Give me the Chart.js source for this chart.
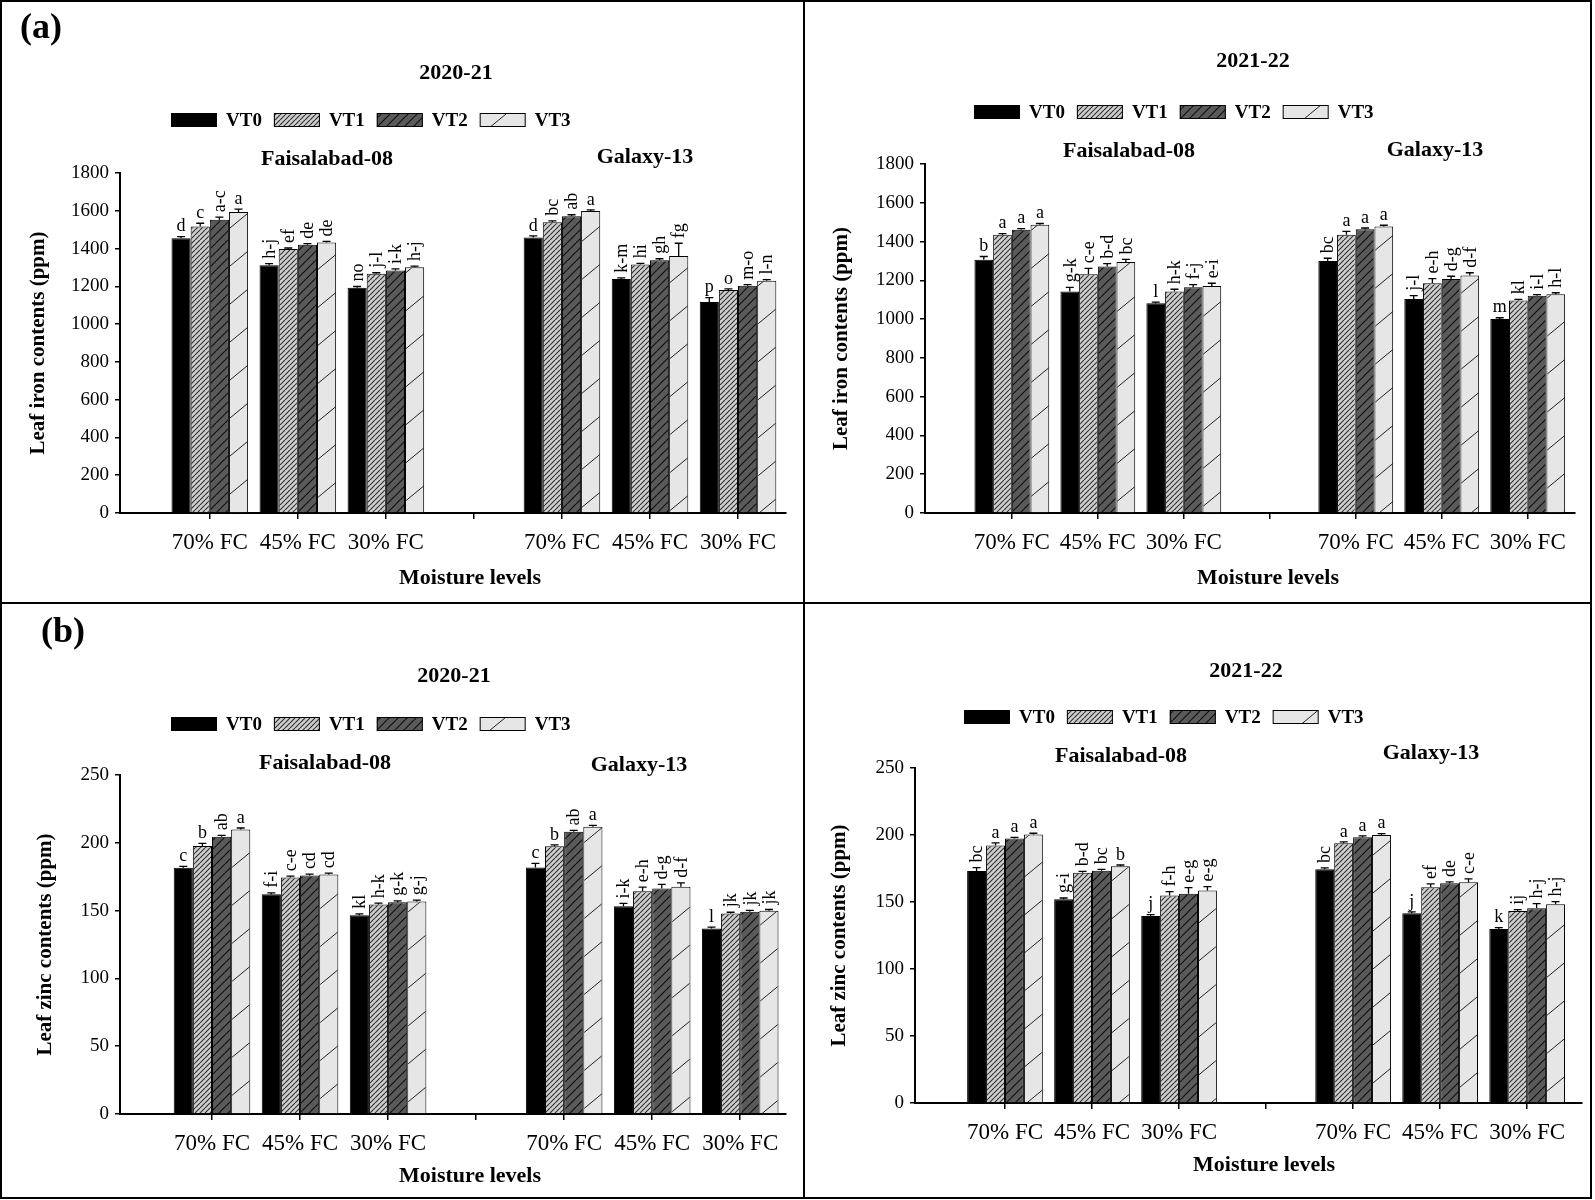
<!DOCTYPE html>
<html>
<head>
<meta charset="utf-8">
<title>Leaf iron and zinc contents</title>
<script src="https://cdn.jsdelivr.net/npm/chart.js@4.4.0/dist/chart.umd.min.js"></script>
<style>
  html, body { margin: 0; padding: 0; background: #fff; }
  #fig { position: relative; width: 1595px; height: 1200px; background: #fff; overflow: hidden; }
  #fig canvas { position: absolute; }
  .rule { position: absolute; background: #000; }
</style>
</head>
<body>
<div id="fig">
  <canvas id="feA" width="804" height="603" style="left:0;top:0"></canvas>
  <canvas id="feB" width="791" height="603" style="left:804px;top:0"></canvas>
  <canvas id="znA" width="804" height="597" style="left:0;top:603px"></canvas>
  <canvas id="znB" width="791" height="597" style="left:804px;top:603px"></canvas>
  <div class="rule" style="left:0;top:0;width:1592px;height:2px"></div>
  <div class="rule" style="left:0;top:1197px;width:1592px;height:2px"></div>
  <div class="rule" style="left:0;top:0;width:2px;height:1199px"></div>
  <div class="rule" style="left:1590px;top:0;width:2px;height:1199px"></div>
  <div class="rule" style="left:803px;top:0;width:2px;height:1199px"></div>
  <div class="rule" style="left:0;top:602px;width:1592px;height:2px"></div>
</div>
<script>
const FONT = "'Liberation Serif', 'Times New Roman', Times, serif";
Chart.defaults.font.family = FONT;
Chart.defaults.color = '#000';

const treatments = ['VT0', 'VT1', 'VT2', 'VT3'];
const varieties = ['Faisalabad-08', 'Galaxy-13'];
const moistureLevels = ['70% FC', '45% FC', '30% FC'];
// slot 3 is the empty gap between the two varieties
const xSlots = [0, 1, 2, 4, 5, 6];
const xTickLabels = ['70% FC', '45% FC', '30% FC', '', '70% FC', '45% FC', '30% FC'];

// order in each row: Faisalabad-08 70/45/30, Galaxy-13 70/45/30
// (a) leaf iron, 2020-21
const fe2021 = [
  [1455, 1312, 1193, 1459, 1239, 1117],
  [1517, 1397, 1266, 1539, 1316, 1181],
  [1552, 1420, 1284, 1571, 1338, 1203],
  [1593, 1432, 1301, 1599, 1361, 1230]
];
const fe2021Err = [
  [8, 8, 6, 8, 6, 23],
  [17, 6, 6, 8, 6, 6],
  [14, 6, 8, 8, 8, 6],
  [16, 6, 6, 6, 67, 6]
];
const fe2021Letters = [
  ['d', 'h-j', 'no', 'd', 'k-m', 'p'],
  ['c', 'ef', 'j-l', 'bc', 'hi', 'o'],
  ['a-c', 'de', 'i-k', 'ab', 'gh', 'm-o'],
  ['a', 'de', 'h-j', 'a', 'fg', 'l-n']
];

// (a) leaf iron, 2021-22
const fe2122 = [
  [1306, 1142, 1082, 1300, 1104, 1001],
  [1435, 1232, 1142, 1435, 1185, 1096],
  [1461, 1271, 1164, 1464, 1207, 1120],
  [1487, 1294, 1171, 1478, 1225, 1128]
];
const fe2122Err = [
  [17, 22, 6, 14, 17, 6],
  [6, 30, 12, 17, 24, 6],
  [6, 15, 14, 6, 14, 6],
  [6, 14, 14, 6, 14, 8]
];
const fe2122Letters = [
  ['b', 'g-k', 'l', 'bc', 'j-l', 'm'],
  ['a', 'c-e', 'h-k', 'a', 'e-h', 'kl'],
  ['a', 'b-d', 'f-j', 'a', 'd-g', 'i-l'],
  ['a', 'bc', 'e-i', 'a', 'd-f', 'h-l']
];

// (b) leaf zinc, 2020-21
const zn2021 = [
  [181.6, 162.1, 146.6, 181.8, 153.3, 136.8],
  [197.6, 174.4, 154.5, 197.5, 164.3, 147.8],
  [204.5, 175.9, 156.2, 208.1, 166.3, 149.1],
  [209.9, 176.6, 156.7, 211.8, 167.5, 149.8]
];
const zn2021Err = [
  [1, 1, 1, 3, 2, 1],
  [2, 1, 1, 1, 3, 1],
  [1, 1, 1, 1, 3, 1],
  [1, 1, 1, 1, 3, 1]
];
const zn2021Letters = [
  ['c', 'f-i', 'kl', 'c', 'i-k', 'l'],
  ['b', 'c-e', 'h-k', 'b', 'e-h', 'jk'],
  ['ab', 'cd', 'g-k', 'ab', 'd-g', 'jk'],
  ['a', 'cd', 'g-j', 'a', 'd-f', 'jk']
];

// (b) leaf zinc, 2021-22
const zn2122 = [
  [173.2, 152.0, 139.6, 174.4, 141.6, 129.9],
  [192.1, 171.9, 154.8, 193.8, 161.0, 143.3],
  [197.3, 173.4, 156.2, 198.3, 164.0, 145.3],
  [200.3, 176.6, 158.5, 200.0, 164.7, 148.3]
];
const zn2122Err = [
  [2.5, 1, 1, 1, 1, 1],
  [2, 1, 3, 1, 2.5, 1],
  [1, 1, 4.5, 1, 1, 3.5],
  [1, 1, 3, 1, 2.5, 2]
];
const zn2122Letters = [
  ['bc', 'g-i', 'j', 'bc', 'j', 'k'],
  ['a', 'b-d', 'f-h', 'a', 'ef', 'ij'],
  ['a', 'bc', 'e-g', 'a', 'de', 'h-j'],
  ['a', 'b', 'e-g', 'a', 'c-e', 'h-j']
];

// hatch fills
function hatch(bg, ink, w, h, lw) {
  const c = document.createElement('canvas');
  c.width = w; c.height = h;
  const g = c.getContext('2d');
  g.fillStyle = bg;
  g.fillRect(0, 0, w, h);
  if (ink) {
    g.strokeStyle = ink;
    g.lineWidth = lw;
    g.beginPath();
    for (const dx of [-w, 0, w]) {
      g.moveTo(dx, h);
      g.lineTo(dx + w, 0);
    }
    g.stroke();
  }
  return g.createPattern(c, 'repeat');
}
const fills = [
  '#000',
  hatch('#cfcfcf', '#333', 5, 5, 1.2),
  hatch('#5a5a5a', '#111', 9, 9, 1.2),
  hatch('#e6e6e6', '#222', 46, 38, 1)
];

const decor = {
  id: 'decor',
  afterDatasetsDraw(chart) {
    const ctx = chart.ctx;
    const y = chart.scales.y;
    ctx.save();
    chart.data.datasets.forEach((ds, di) => {
      chart.getDatasetMeta(di).data.forEach((bar, i) => {
        const top = y.getPixelForValue(ds.data[i].y + ds.errors[i]);
        ctx.strokeStyle = '#000';
        ctx.lineWidth = 1.3;
        ctx.beginPath();
        ctx.moveTo(bar.x, bar.y);
        ctx.lineTo(bar.x, top);
        ctx.moveTo(bar.x - 4, top);
        ctx.lineTo(bar.x + 4, top);
        ctx.stroke();

        const txt = ds.letters[i];
        ctx.fillStyle = '#000';
        ctx.font = '18px ' + FONT;
        if (txt.length === 1) {
          ctx.textAlign = 'center';
          ctx.textBaseline = 'bottom';
          ctx.fillText(txt, bar.x, top - 1);
        } else {
          ctx.save();
          ctx.translate(bar.x, top - 5);
          ctx.rotate(-Math.PI / 2);
          ctx.textAlign = 'left';
          ctx.textBaseline = 'middle';
          ctx.fillText(txt, 0, 1);
          ctx.restore();
        }
      });
    });
    ctx.restore();
  },
  afterDraw(chart, args, o) {
    const ctx = chart.ctx;
    ctx.save();
    ctx.fillStyle = '#000';
    ctx.textBaseline = 'middle';

    if (o.tag) {
      ctx.textAlign = 'left';
      ctx.font = 'bold 36px ' + FONT;
      ctx.fillText(o.tag.text, o.tag.x, o.tag.y);
    }

    ctx.textAlign = 'center';
    ctx.font = 'bold 22px ' + FONT;
    ctx.fillText(o.season.text, o.season.x, o.season.y);

    // legend
    let lx = o.legend.x;
    ctx.font = 'bold 19px ' + FONT;
    ctx.textAlign = 'left';
    treatments.forEach((t, i) => {
      ctx.fillStyle = fills[i];
      ctx.fillRect(lx, o.legend.y - 7, 46, 14);
      ctx.strokeStyle = '#000';
      ctx.lineWidth = 1;
      ctx.strokeRect(lx + 0.5, o.legend.y - 6.5, 45, 13);
      ctx.fillStyle = '#000';
      ctx.fillText(t, lx + 55, o.legend.y + 1);
      lx += 55 + ctx.measureText(t).width + 12;
    });

    ctx.textAlign = 'center';
    ctx.font = 'bold 22px ' + FONT;
    varieties.forEach((v, i) => {
      ctx.fillText(v, o.variety[i].x, o.variety[i].y);
    });

    ctx.fillText('Moisture levels', o.xTitle.x, o.xTitle.y);
    ctx.restore();
  }
};

function makeChart(id, values, errors, letters, p) {
  const datasets = treatments.map((t, ti) => ({
    label: t,
    data: xSlots.map((x, i) => ({ x: x, y: values[ti][i] })),
    errors: errors[ti],
    letters: letters[ti],
    backgroundColor: fills[ti],
    borderColor: '#000',
    borderWidth: 1,
    borderSkipped: 'bottom',
    categoryPercentage: 0.87,
    barPercentage: 1
  }));

  return new Chart(document.getElementById(id), {
    type: 'bar',
    data: { datasets: datasets },
    plugins: [decor],
    options: {
      responsive: false,
      animation: false,
      devicePixelRatio: 1,
      events: [],
      layout: { padding: p.pad },
      plugins: {
        legend: { display: false },
        title: { display: false },
        tooltip: { enabled: false },
        decor: p.decor
      },
      scales: {
        x: {
          type: 'linear',
          offset: false,
          min: p.xMin,
          max: p.xMax,
          afterFit: s => { s.height = 40; },
          afterBuildTicks: s => { s.ticks = xTickLabels.map((_, i) => ({ value: i })); },
          grid: { offset: false, drawOnChartArea: false, drawTicks: true, tickLength: 6, color: '#000', lineWidth: 1.5 },
          border: { color: '#000', width: 2 },
          ticks: {
            autoSkip: false,
            maxRotation: 0,
            padding: 10,
            font: { size: 23 },
            callback: v => xTickLabels[v] ?? ''
          }
        },
        y: {
          min: 0,
          max: p.yMax,
          afterFit: s => { s.width = p.axisW; },
          grid: { drawOnChartArea: false, drawTicks: true, tickLength: 5, color: '#000', lineWidth: 1.5 },
          border: { color: '#000', width: 2 },
          ticks: { stepSize: p.yStep, padding: 6, font: { size: 19 }, callback: v => String(v) },
          title: {
            display: true,
            text: p.yTitle,
            font: { size: 21, weight: 'bold' },
            padding: { top: p.yTitlePad, bottom: 0 }
          }
        }
      }
    }
  });
}

makeChart('feA', fe2021, fe2021Err, fe2021Letters, {
  yMax: 1800, yStep: 200, yTitle: 'Leaf iron contents (ppm)',
  xMin: -1.02, xMax: 6.545, axisW: 120, yTitlePad: 26,
  pad: { left: 0, top: 173, right: 18, bottom: 50 },
  decor: {
    tag: { text: '(a)', x: 20, y: 29 },
    season: { text: '2020-21', x: 456, y: 73 },
    legend: { x: 171, y: 120 },
    variety: [{ x: 327, y: 159 }, { x: 645, y: 157 }],
    xTitle: { x: 470, y: 578 }
  }
});

makeChart('feB', fe2122, fe2122Err, fe2122Letters, {
  yMax: 1800, yStep: 200, yTitle: 'Leaf iron contents (ppm)',
  xMin: -1.01, xMax: 6.55, axisW: 121, yTitlePad: 25,
  pad: { left: 0, top: 164, right: 20, bottom: 50 },
  decor: {
    season: { text: '2021-22', x: 449, y: 61 },
    legend: { x: 170, y: 112 },
    variety: [{ x: 325, y: 151 }, { x: 631, y: 150 }],
    xTitle: { x: 464, y: 578 }
  }
});

makeChart('znA', zn2021, zn2021Err, zn2021Letters, {
  yMax: 250, yStep: 50, yTitle: 'Leaf zinc contents (ppm)',
  xMin: -1.045, xMax: 6.52, axisW: 120, yTitlePad: 33,
  pad: { left: 0, top: 172, right: 18, bottom: 46 },
  decor: {
    tag: { text: '(b)', x: 41, y: 30 },
    season: { text: '2020-21', x: 454, y: 73 },
    legend: { x: 171, y: 121 },
    variety: [{ x: 325, y: 160 }, { x: 639, y: 162 }],
    xTitle: { x: 470, y: 573 }
  }
});

makeChart('znB', zn2122, zn2122Err, zn2122Letters, {
  yMax: 250, yStep: 50, yTitle: 'Leaf zinc contents (ppm)',
  xMin: -1.034, xMax: 6.63, axisW: 111, yTitlePad: 23,
  pad: { left: 0, top: 165, right: 13, bottom: 57 },
  decor: {
    season: { text: '2021-22', x: 442, y: 68 },
    legend: { x: 160, y: 114 },
    variety: [{ x: 317, y: 153 }, { x: 627, y: 150 }],
    xTitle: { x: 460, y: 562 }
  }
});
</script>
</body>
</html>
